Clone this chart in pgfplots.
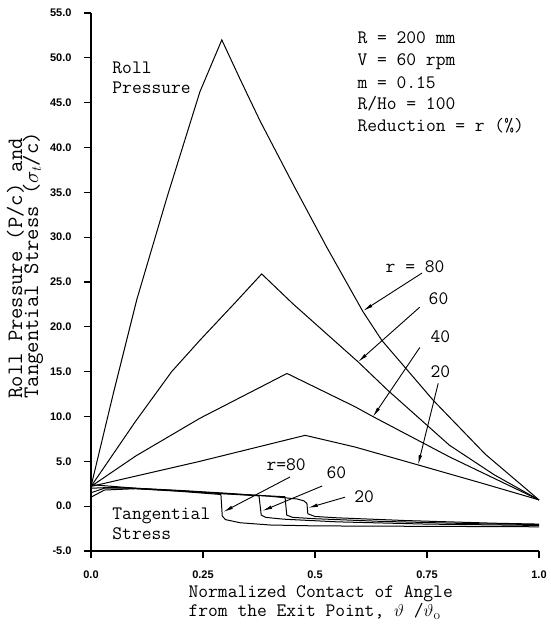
\documentclass[border=0pt]{standalone}
\usepackage{fontspec}
\usepackage{pgfplots}
\pgfplotsset{compat=1.18}
\usetikzlibrary{arrows.meta}
\newfontfamily\tickfont{Liberation Sans}
\newcommand\lbl{\ttfamily\fontsize{19}{21}\selectfont}
\newcommand\ylbl{\ttfamily\fontsize{22}{24}\selectfont}

\begin{document}
\begin{tikzpicture}
\useasboundingbox (-91pt,-81pt) rectangle (459pt,551pt);
\begin{axis}[
  scale only axis, width=448pt, height=538pt,
  xmin=0, xmax=1, ymin=-5, ymax=55,
  axis x line*=bottom, axis y line*=left,
  axis line style={line width=1.3pt},
  tick align=outside, major tick length=7pt,
  tick style={line width=1.2pt, black},
  xtick={0,0.25,0.5,0.75,1}, xticklabels={0.0,0.25,0.5,0.75,1.0},
  ytick={-5,0,...,55},
  yticklabel={\pgfmathprintnumber[fixed,fixed zerofill,precision=1]{\tick}},
  ticklabel style={font=\tickfont\bfseries\fontsize{11}{12}\selectfont},
  yticklabel style={xshift=-9pt},
  xticklabel style={yshift=-9pt},
  /pgf/number format/assume math mode=true,
  clip=false,
  every axis plot post/.append style={black, line width=1pt, mark=none, solid},
  every node/.append style={inner sep=0pt},
]
% roll pressure, r = 80, 60, 40, 20
\addplot coordinates {(0,2.2) (0.05,12.6) (0.102,23.0) (0.17,34.5) (0.243,46.2) (0.27,49.4) (0.292,52.0)
  (0.333,47.6) (0.377,43.0) (0.45,36.0) (0.526,28.9) (0.607,21.7) (0.649,18.5) (0.764,11.8) (0.88,5.8) (1,0.7)};
\addplot coordinates {(0,2.2) (0.1,9.5) (0.18,15.0) (0.243,18.5) (0.32,22.6) (0.381,25.9)
  (0.45,22.6) (0.596,16.1) (0.663,12.9) (0.8,6.8) (0.9,3.5) (1,0.7)};
\addplot coordinates {(0,2.2) (0.1,5.6) (0.243,9.8) (0.4375,14.8)
  (0.589,11.1) (0.629,10.0) (0.8,5.5) (1,0.7)};
\addplot coordinates {(0,2.2) (0.243,5.0) (0.478,7.9)
  (0.589,6.6) (0.730,4.6) (0.87,2.6) (1,0.7)};
% tangential stress
\addplot coordinates {(0,1.0) (0.03,1.8) (0.1,1.95) (0.2,1.65) (0.29,1.3) (0.293,-1.1) (0.3,-1.5)
  (0.333,-1.85) (0.4,-2.1) (0.5,-2.2) (0.75,-2.25) (1,-2.3)};
\addplot coordinates {(0,1.5) (0.03,2.0) (0.1,2.0) (0.2,1.7) (0.29,1.4) (0.375,1.15) (0.38,-1.0)
  (0.39,-1.25) (0.43,-1.45) (0.55,-1.75) (0.75,-2.0) (1,-2.15)};
\addplot coordinates {(0,2.0) (0.05,2.1) (0.1,1.95) (0.2,1.7) (0.3,1.4) (0.433,1.05) (0.437,-1.0)
  (0.45,-1.25) (0.5,-1.4) (0.65,-1.7) (0.85,-1.95) (1,-2.05)};
\addplot coordinates {(0,2.4) (0.05,2.2) (0.1,2.0) (0.2,1.75) (0.3,1.45) (0.4,1.1) (0.46,0.8)
  (0.475,0.6) (0.482,0.3) (0.484,-0.85) (0.5,-1.15) (0.55,-1.3) (0.7,-1.6) (0.9,-1.9) (1,-2.0)};

% texts
\node[anchor=base west, font=\lbl] at (axis cs:0.040,48.2) {Roll};
\node[anchor=base west, font=\lbl] at (axis cs:0.040,46.0) {Pressure};
\node[anchor=base west, font=\lbl] at (axis cs:0.040,-1.54) {Tangential};
\node[anchor=base west, font=\lbl] at (axis cs:0.040,-3.77) {Stress};
\node[anchor=base west, font=\lbl] at (axis cs:0.587,51.55) {R = 200 mm};
\node[anchor=base west, font=\lbl] at (axis cs:0.587,49.1) {V = 60 rpm};
\node[anchor=base west, font=\lbl] at (axis cs:0.587,46.6) {m = 0.15};
\node[anchor=base west, font=\lbl] at (axis cs:0.587,44.2) {R/Ho = 100};
\node[anchor=base west, font=\lbl] at (axis cs:0.587,41.8) {Reduction = r (\%)};
\node[anchor=base west, font=\lbl] at (axis cs:0.650,26.1) {r = 80};
\node[anchor=base west, font=\lbl] at (axis cs:0.746,22.5) {60};
\node[anchor=base west, font=\lbl] at (axis cs:0.750,18.2) {40};
\node[anchor=base west, font=\lbl] at (axis cs:0.750,14.3) {20};
\node[anchor=base west, font=\lbl] at (axis cs:0.384,3.93) {r=80};
\node[anchor=base west, font=\lbl] at (axis cs:0.518,3.04) {60};
\node[anchor=base west, font=\lbl] at (axis cs:0.580,0.36) {20};
% arrows
\begin{scope}[line width=0.9pt, -{Latex[length=10pt,width=3.5pt]}]
\draw (axis cs:0.739,26.0) -- (axis cs:0.607,21.77);
\draw (axis cs:0.734,22.2) -- (axis cs:0.596,16.08);
\draw (axis cs:0.734,17.7) -- (axis cs:0.629,9.95);
\draw (axis cs:0.775,13.7) -- (axis cs:0.730,4.59);
\draw (axis cs:0.444,3.25) -- (axis cs:0.295,-0.65);
\draw (axis cs:0.516,2.25) -- (axis cs:0.382,-0.54);
\draw (axis cs:0.567,1.0) -- (axis cs:0.484,-0.2);
\end{scope}
% axis labels
\node[anchor=base west, font=\lbl] at (axis cs:0.21,-10.24) {Normalized Contact of Angle};
\node[anchor=base west, font=\lbl] at (axis cs:0.21,-12.36) {from the Exit Point, $\vartheta$ /$\vartheta_{\mathrm{o}}$};
\node[anchor=base west, rotate=90, font=\ylbl] at (axis cs:-0.154,11.6) {Roll Pressure (P/c) and};
\node[anchor=base west, rotate=90, font=\ylbl] at (axis cs:-0.118,11.6) {Tangential Stress ($\sigma_t$/c)};
\end{axis}
\end{tikzpicture}
\end{document}
